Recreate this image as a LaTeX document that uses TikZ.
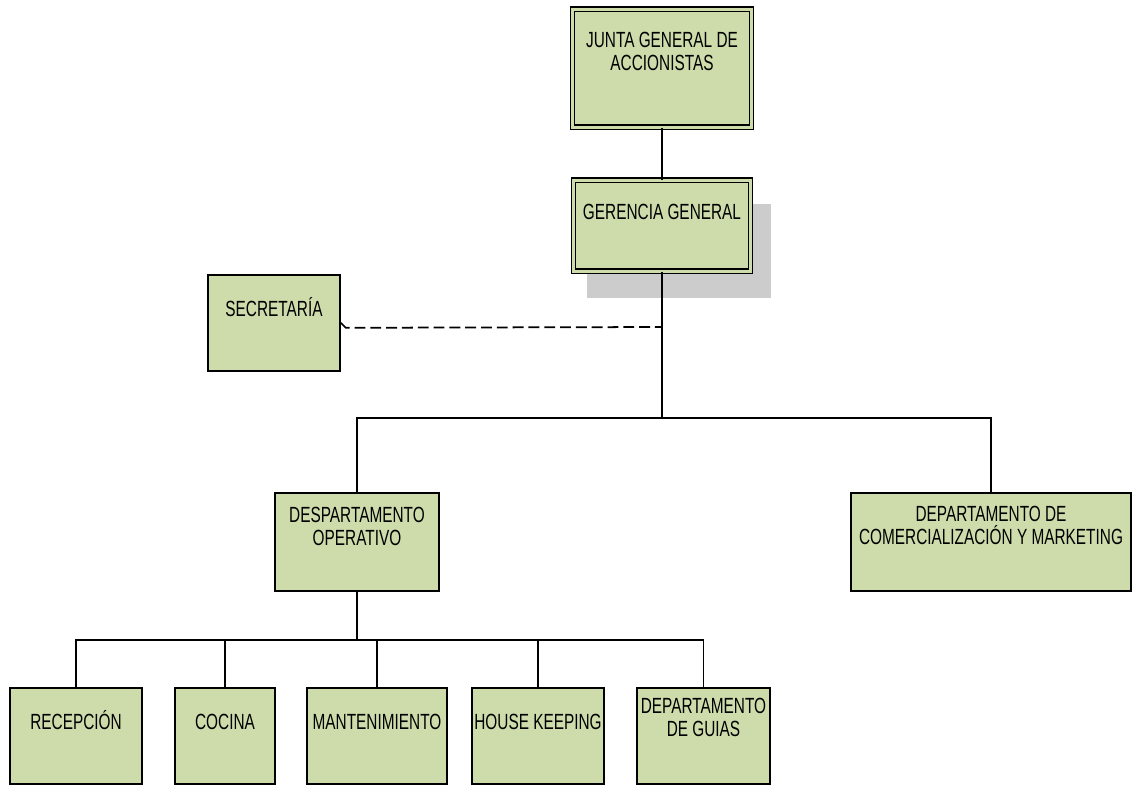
\documentclass[tikz,border=0pt]{standalone}
\usepackage{fontspec}
\setmainfont{Liberation Sans}[FakeStretch=0.70]
\usetikzlibrary{shadows}
\definecolor{boxgreen}{RGB}{205,220,170}
\definecolor{shadegray}{RGB}{204,204,204}

\tikzset{
  unit/.style={draw, fill=boxgreen, line width=0.9pt, inner sep=0pt, anchor=north,
    align=center, font=\fontsize{12.5}{13.2}\selectfont},
  dbl/.style={unit, line width=0.6pt, double=boxgreen, double distance=1.8pt},
  low/.style={unit, text height=0.84cm, text depth=1.08cm},
  link/.style={line width=0.9pt},
}

\begin{document}
\begin{tikzpicture}[x=0.02cm, y=-0.02cm]
\useasboundingbox (0,0) rectangle (1133,785);

% top of the chart
\node[dbl, minimum width=3.58cm, text height=1.23cm, text depth=1.13cm] (junta) at (662,8.6) {JUNTA GENERAL DE\\ACCIONISTAS};
\node[dbl, general shadow={fill=shadegray, shadow xshift=0.33cm, shadow yshift=-0.49cm, shadow scale=1.04},
  minimum width=3.53cm, text height=0.79cm, text depth=1.03cm] (ger) at (662,179.6) {GERENCIA GENERAL};
\node[low, minimum width=2.64cm] (sec) at (274,274) {SECRETARÍA};

% departments
\node[unit, minimum width=3.28cm, text height=1.06cm, text depth=0.90cm] (dop) at (357,492) {DESPARTAMENTO\\OPERATIVO};
\node[unit, minimum width=5.6cm, text height=1.04cm, text depth=0.92cm] (dcm) at (991,492) {DEPARTAMENTO DE\\COMERCIALIZACIÓN Y MARKETING};

% operative units
\node[low, minimum width=2.64cm] (rec) at (76,687) {RECEPCIÓN};
\node[low, minimum width=2.0cm] (coc) at (225,687) {COCINA};
\node[low, minimum width=2.8cm] (man) at (377,687) {MANTENIMIENTO};
\node[low, minimum width=2.64cm] (hk) at (538,687) {HOUSE KEEPING};
\node[unit, minimum width=2.66cm, text height=0.98cm, text depth=0.94cm] (gui) at (703.5,687) {DEPARTAMENTO\\DE GUIAS};

\coordinate (sj) at (662,327);
\coordinate (b1) at (662,418);
\coordinate (b2) at (357,640);

\draw[link] (junta) -- (ger);
\draw[link] (ger.south) -- (b1);
\draw[link, line width=1pt, dash pattern=on 6.2pt off 2.8pt] (sec.east) -- ++(5,5) -- (sj);
\draw[link] (b1) -| (dop.north);
\draw[link] (b1) -| (dcm.north);
\draw[link] (dop.south) -- (b2);
\foreach \n in {rec,coc,man,hk,gui}
  \draw[link] (b2) -| (\n.north);
\end{tikzpicture}
\end{document}
